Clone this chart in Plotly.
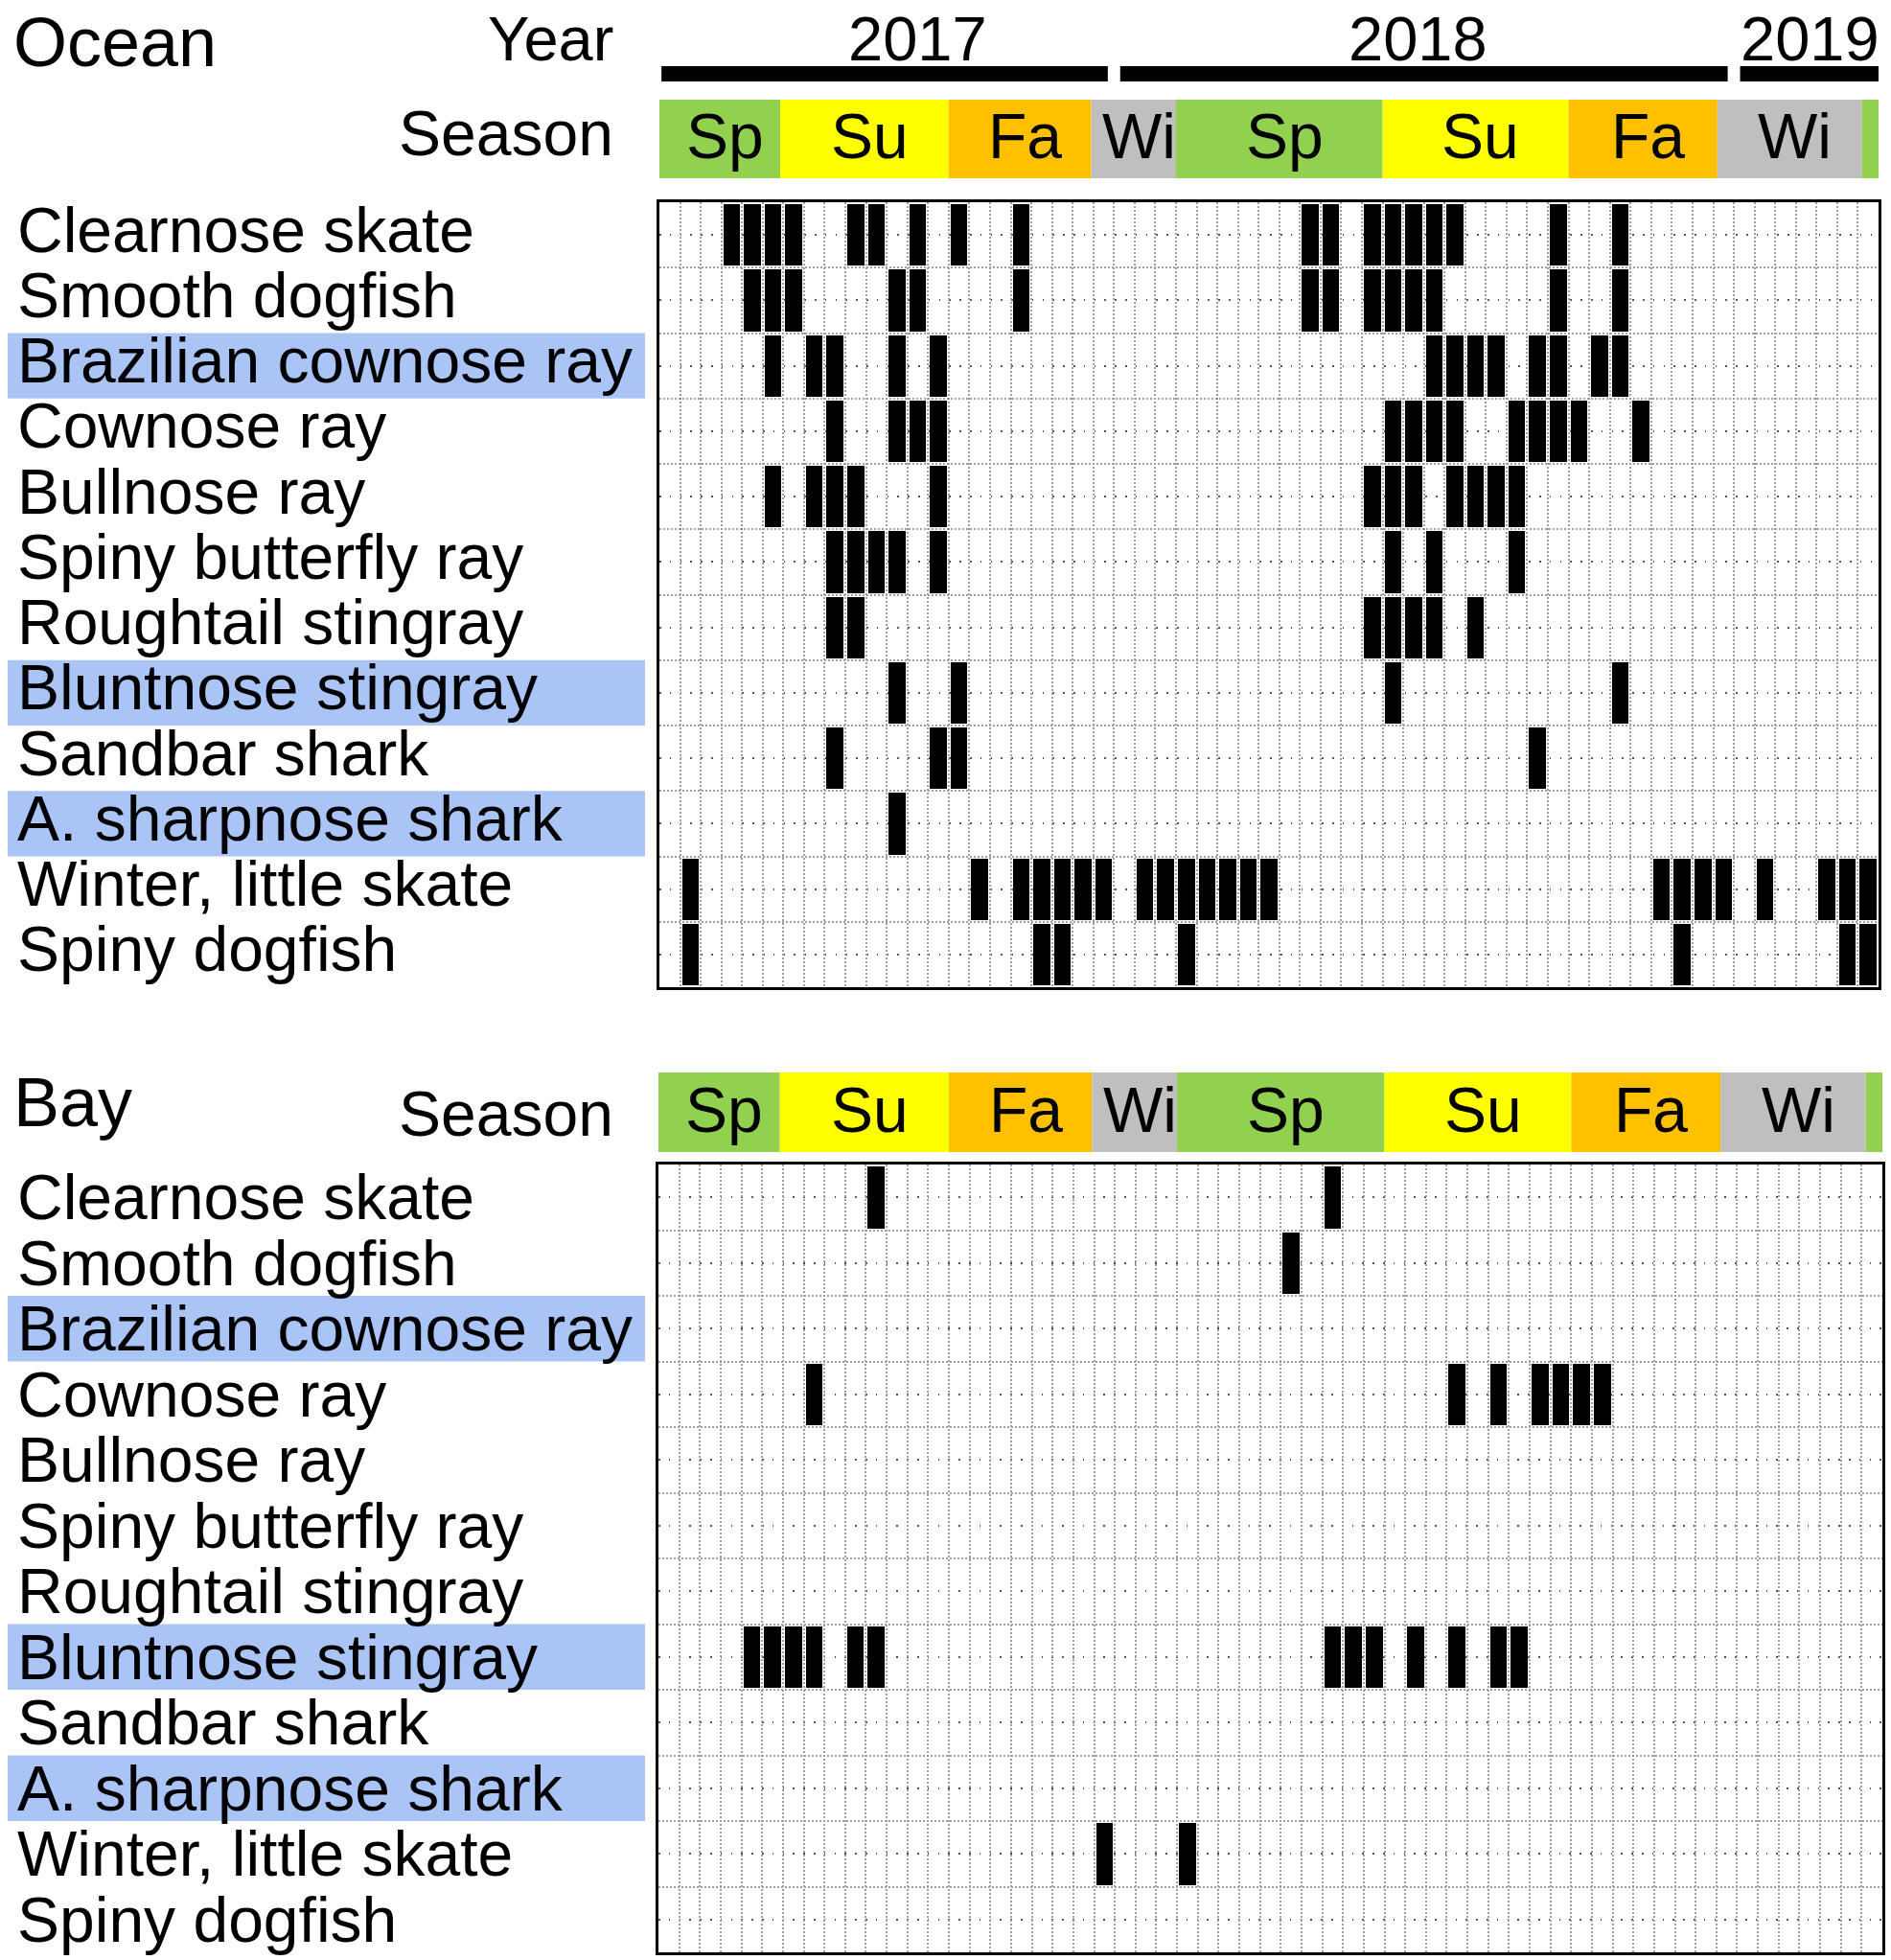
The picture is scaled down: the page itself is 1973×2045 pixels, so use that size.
import plotly.graph_objects as go

W, H = 1973, 2045

species = ['Clearnose skate', 'Smooth dogfish', 'Brazilian cownose ray', 'Cownose ray',
           'Bullnose ray', 'Spiny butterfly ray', 'Roughtail stingray', 'Bluntnose stingray',
           'Sandbar shark', 'A. sharpnose shark', 'Winter, little skate', 'Spiny dogfish']
highlighted = ['Brazilian cownose ray', 'Bluntnose stingray', 'A. sharpnose shark']

n_periods = 59

# sampling periods (column index) with a detection, one list per species
ocean_cols = [
    [3, 4, 5, 6, 9, 10, 12, 14, 17, 31, 32, 34, 35, 36, 37, 38, 43, 46],
    [4, 5, 6, 11, 12, 17, 31, 32, 34, 35, 36, 37, 43, 46],
    [5, 7, 8, 11, 13, 37, 38, 39, 40, 42, 43, 45, 46],
    [8, 11, 12, 13, 35, 36, 37, 38, 41, 42, 43, 44, 47],
    [5, 7, 8, 9, 13, 34, 35, 36, 38, 39, 40, 41],
    [8, 9, 10, 11, 13, 35, 37, 41],
    [8, 9, 34, 35, 36, 37, 39],
    [11, 14, 35, 46],
    [8, 13, 14, 42],
    [11],
    [1, 15, 17, 18, 19, 20, 21, 23, 24, 25, 26, 27, 28, 29, 48, 49, 50, 51, 53, 56, 57, 58],
    [1, 18, 19, 25, 49, 57, 58],
]
bay_cols = [
    [10, 32],
    [30],
    [],
    [7, 38, 40, 42, 43, 44, 45],
    [],
    [],
    [],
    [4, 5, 6, 7, 9, 10, 32, 33, 34, 36, 38, 40, 41],
    [],
    [],
    [21, 25],
    [],
]

seasons = ['Sp', 'Su', 'Fa', 'Wi', 'Sp', 'Su', 'Fa', 'Wi', 'Sp']
season_edges = [0, 5.85, 14, 20.9, 25, 35, 44, 51.2, 58.2, 59.2]
season_colors = {'Sp': '#92d050', 'Su': '#ffff00', 'Fa': '#ffc000', 'Wi': '#bfbfbf'}

years = ['2017', '2018', '2019']
year_edges = [0, 22, 52, 59.2]
year_label_shift = [1.5, -0.3, 0.1]


def px(x):
    return x / W


def py(y):
    return 1 - y / H


FONT = 'Liberation Sans, Arial, sans-serif'
xc = [c + 0.5 for c in range(n_periods)]


def matrix(cols):
    z = []
    for row in cols:
        z.append([1 if c in row else None for c in range(n_periods)])
    return z


def note(text, x, y, size=66, xanchor='center', xref='paper', yref='paper'):
    fig.add_annotation(xref=xref, yref=yref, x=x, y=y, text=text, showarrow=False,
                       xanchor=xanchor, yanchor='middle', font=dict(size=size))


fig = go.Figure()
for z, xa, ya in [(matrix(ocean_cols), 'x', 'y'), (matrix(bay_cols), 'x2', 'y2')]:
    fig.add_trace(go.Heatmap(x=xc, y=list(range(len(species))), z=z, xaxis=xa, yaxis=ya,
                             colorscale=[[0, 'black'], [1, 'black']], showscale=False,
                             xgap=4, ygap=4, hoverinfo='skip'))

grid = dict(showgrid=True, gridcolor='#a0a0a0', gridwidth=2, griddash='2px,2px',
            showline=True, mirror=True, linecolor='black', linewidth=3,
            zeroline=False, showticklabels=False, ticks='')
xax = dict(grid, domain=[px(688), px(1960)], range=[0, n_periods],
           tickvals=list(range(1, n_periods)))
yax = dict(grid, range=[len(species) - 0.5, -0.5],
           tickvals=[k + 0.5 for k in range(len(species) - 1)],
           minor=dict(tickvals=list(range(len(species))), showgrid=True,
                      gridcolor='#555555', gridwidth=1.5, griddash='1.5px,9.3px'))

fig.update_layout(
    width=W, height=H, margin=dict(l=0, r=0, t=0, b=0),
    paper_bgcolor='white', plot_bgcolor='white', showlegend=False,
    font=dict(family=FONT, color='black', size=66),
    xaxis=dict(xax, anchor='y'),
    yaxis=dict(yax, anchor='x', domain=[py(1030), py(211)]),
    xaxis2=dict(xax, anchor='y2', domain=[px(687), px(1964)]),
    yaxis2=dict(yax, anchor='x2', domain=[py(2037), py(1215)]),
)

# season strips
for xref, top, bot in [('x', 104, 186), ('x2', 1119, 1202)]:
    for i, s in enumerate(seasons):
        x0, x1 = season_edges[i], season_edges[i + 1]
        fig.add_shape(type='rect', xref=xref, yref='paper', x0=x0, x1=x1,
                      y0=py(bot), y1=py(top), fillcolor=season_colors[s], line_width=0)
        if x1 - x0 > 2:
            note(s, (x0 + x1) / 2 + 0.25, py((top + bot) / 2 - 3), xref=xref)

# year bars
for i, yr in enumerate(years):
    x0 = year_edges[i] + (0.3 if i > 0 else 0.1)
    x1 = year_edges[i + 1] - (0.3 if i < len(years) - 1 else 0)
    fig.add_shape(type='rect', xref='x', yref='paper', x0=x0, x1=x1,
                  y0=py(85), y1=py(69), fillcolor='black', line_width=0)
    note(yr, (year_edges[i] + year_edges[i + 1]) / 2 + year_label_shift[i], py(41), size=65, xref='x')

# species labels (ocean text sits a little above the row centre)
for yref, lift in [('y', 0.08), ('y2', 0.0)]:
    for r, name in enumerate(species):
        if name in highlighted:
            fig.add_shape(type='rect', xref='paper', yref=yref, x0=px(8), x1=px(673),
                          y0=r - 0.5, y1=r + 0.5, fillcolor='#a9c4f5', line_width=0, layer='below')
        note(name, px(16), r - lift, xanchor='left', yref=yref)

# headers
note('Ocean', px(12), py(44), size=72, xanchor='left')
note('Year', px(642), py(41), size=65, xanchor='right')
note('Season', px(642), py(139), xanchor='right')
note('Bay', px(12), py(1150), size=72, xanchor='left')
note('Season', px(642), py(1162), xanchor='right')

# drop the page's default body margin so the figure sits at the window corner
fig.write_html("out.html", config={'displayModeBar': False},
               post_script="document.body.style.margin='0';")
